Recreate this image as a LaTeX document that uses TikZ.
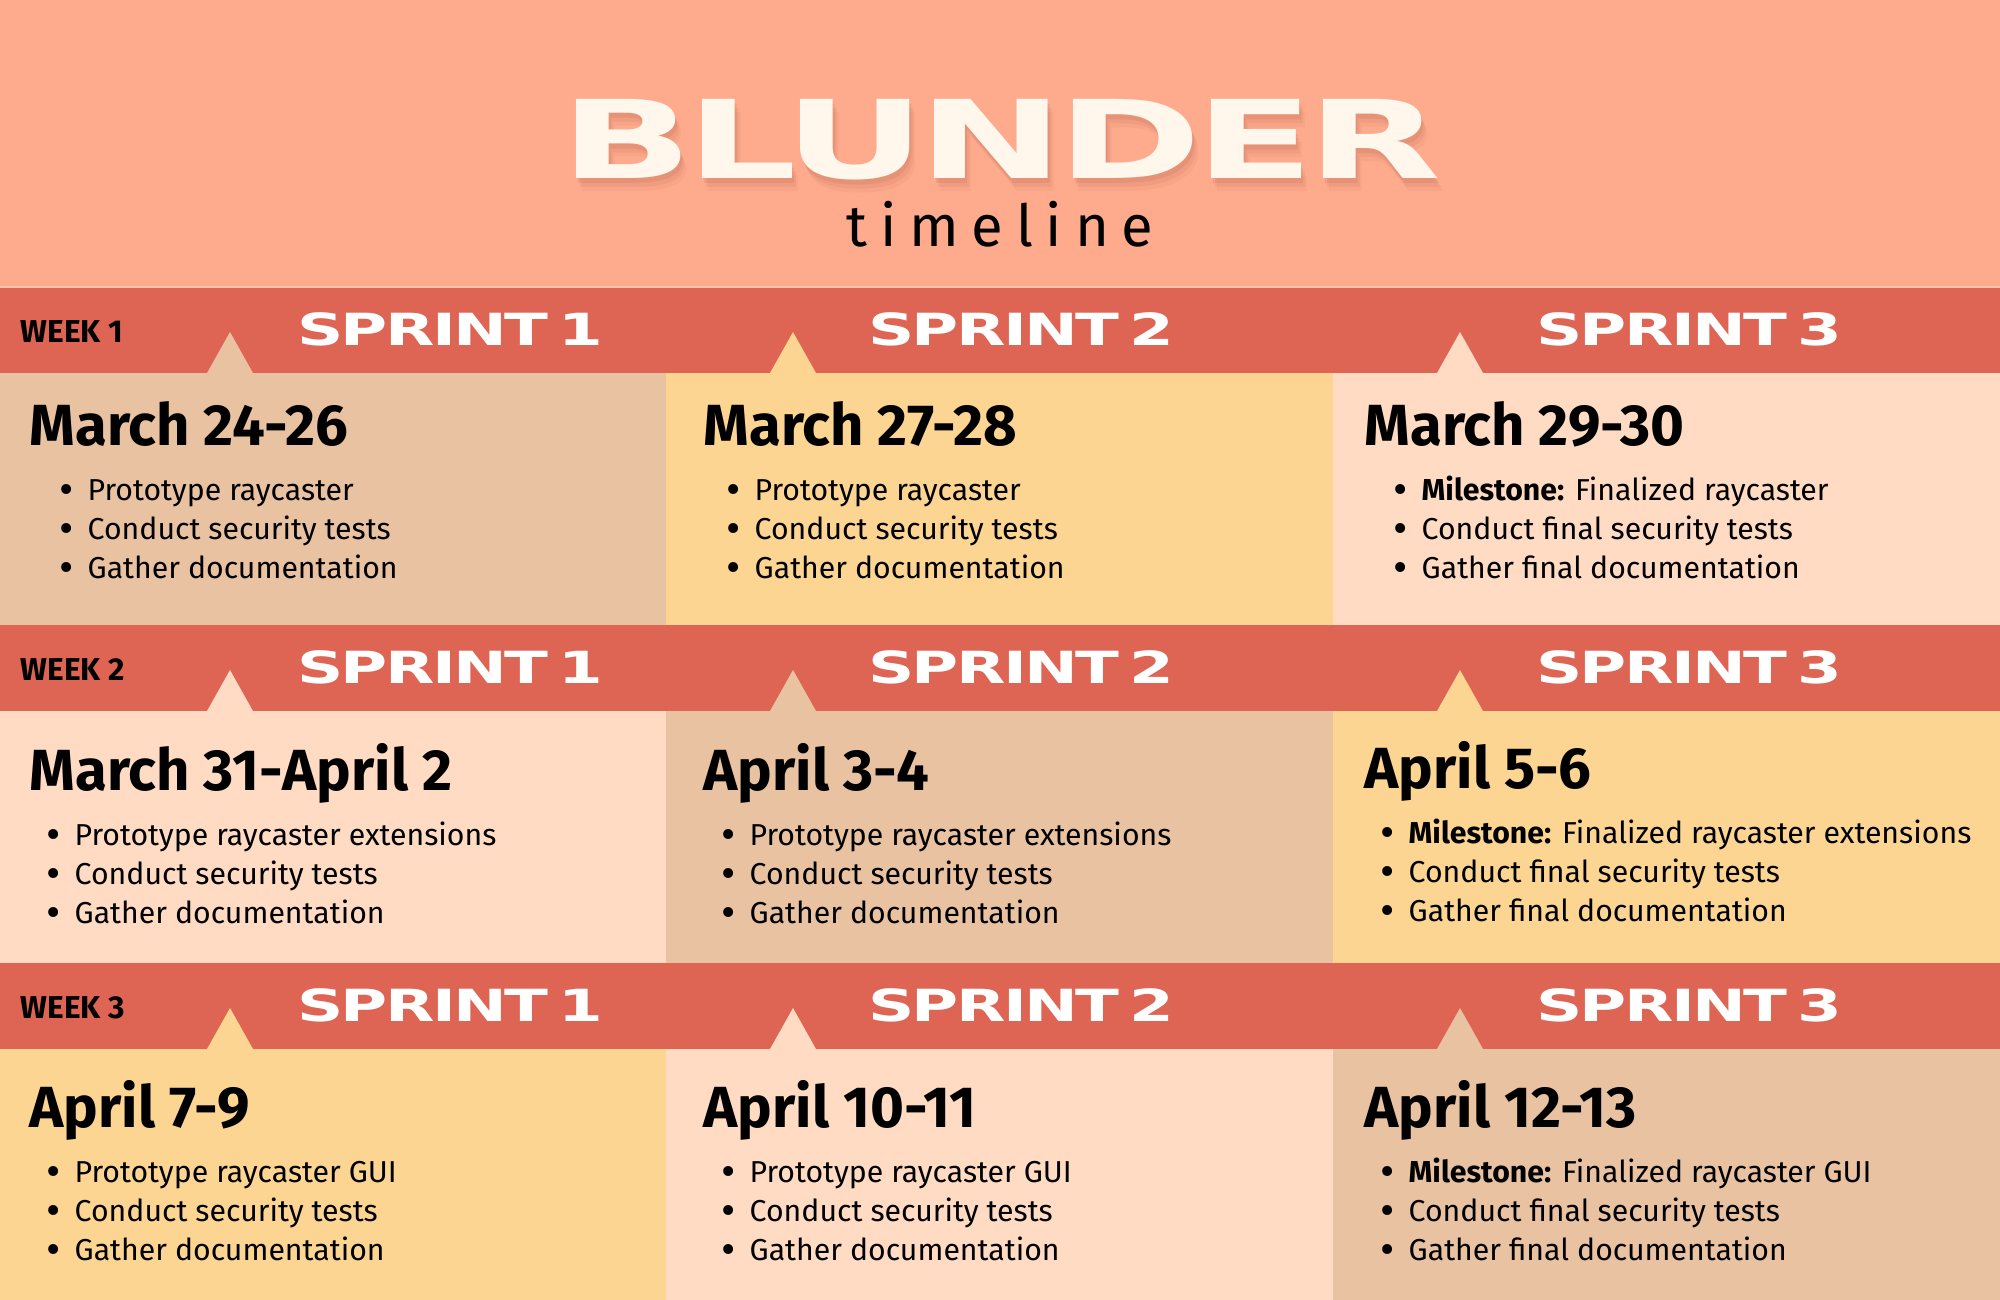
\documentclass[tikz,border=0pt]{standalone}
\usepackage{fontspec}
\setmainfont{Fira Sans}
\newfontfamily\sprintfont[FakeStretch=1.45,LetterSpace=-6,WordSpace=0.5]{DejaVu Sans}
\newfontfamily\titlefont[FakeStretch=1.6,LetterSpace=-6]{DejaVu Sans}
\newfontfamily\subfont[LetterSpace=22]{Fira Sans}
\usetikzlibrary{positioning}
\definecolor{headbg}{HTML}{FEAA8D}
\definecolor{bandred}{HTML}{DE6453}
\definecolor{tan}{HTML}{E8C2A1}
\definecolor{yellow}{HTML}{FCD593}
\definecolor{light}{HTML}{FEDBC2}
\definecolor{cream}{HTML}{FFF6EC}
\definecolor{shadowcol}{HTML}{B8634C}
\newcommand{\bul}{\llap{\raisebox{-1.3pt}{\fontsize{12.5pt}{12pt}\selectfont\textbullet}\hspace{4pt}}}
\tikzset{
  titletext/.style={inner sep=0pt, anchor=base, text=cream, font=\titlefont\bfseries\fontsize{30.9pt}{32pt}\selectfont},
  subtitle/.style={inner sep=0pt, anchor=base, font=\subfont\fontsize{16.5pt}{18pt}\selectfont},
  weeklabel/.style={inner sep=0pt, anchor=west, font=\bfseries\fontsize{9pt}{10pt}\selectfont},
  sprintlabel/.style={inner sep=0pt, text=white, font=\sprintfont\bfseries\fontsize{12.6pt}{13pt}\selectfont},
  datehead/.style={inner sep=0pt, anchor=base west, font=\bfseries\fontsize{16.5pt}{18pt}\selectfont},
  task/.style={inner sep=0pt, anchor=base west, font=\fontsize{8.6pt}{10pt}\selectfont}
}
% name, heading x, heading baseline, list x, heading, items
\newcommand{\sprintcell}[6]{%
  \node[datehead] (#1) at (#2,#3) {#5};
  \foreach \t [count=\i] in {#6}
    \node[task] (#1-\i) at (#4,#3+16+39*\i) {\bul\t};
}

\begin{document}
\begin{tikzpicture}[x=0.01cm,y=-0.01cm]
  \useasboundingbox (0,0) rectangle (2000,1300);
  % header
  \fill[headbg] (0,0) rectangle (2000,287);
  \foreach \dx/\dy/\op in {2/5/0.16, 4/9/0.12, 6/13/0.08}
    \node[titletext, text=shadowcol, opacity=\op] at (1001+\dx,179+\dy) {BLUNDER};
  \node[titletext] (title) at (1001,179) {BLUNDER};
  \node[subtitle] (sub) at (1000,246) {timeline};

  % bands and cells
  \foreach \y/\w/\ca/\cb/\cc in {287/1/tan/yellow/light, 625/2/light/tan/yellow, 963/3/yellow/light/tan} {
    \fill[bandred] (0,\y) rectangle (2000,\y+86);
    \fill[\ca] (0,\y+86) rectangle (666,\y+338);
    \fill[\cb] (666,\y+86) rectangle (1333,\y+338);
    \fill[\cc] (1333,\y+86) rectangle (2000,\y+338);
    \fill[\ca] (207,\y+86) -- (230,\y+45) -- (253,\y+86) -- cycle;
    \fill[\cb] (770,\y+86) -- (793,\y+45) -- (816,\y+86) -- cycle;
    \fill[\cc] (1437,\y+86) -- (1460,\y+45) -- (1483,\y+86) -- cycle;
    \node[weeklabel] (week\w) at (20,\y+45) {WEEK \w};
    \node[sprintlabel] (s\w-1) at (450,\y+42) {SPRINT 1};
    \node[sprintlabel] (s\w-2) at (1021,\y+42) {SPRINT 2};
    \node[sprintlabel] (s\w-3) at (1689,\y+42) {SPRINT 3};
  }
  \draw[headbg!70!white, line width=0.5pt] (0,287) -- (2000,287);

  % week 1
  \sprintcell{c11}{29}{445}{87}{March 24-26}{Prototype raycaster, Conduct security tests, Gather documentation}
  \sprintcell{c12}{703}{445}{754}{March 27-28}{Prototype raycaster, Conduct security tests, Gather documentation}
  \sprintcell{c13}{1364}{445}{1421}{March 29-30}{\textbf{Milestone:} Finalized raycaster, Conduct final security tests, Gather final documentation}
  % week 2
  \sprintcell{c21}{29}{790}{74}{March 31-April 2}{Prototype raycaster extensions, Conduct security tests, Gather documentation}
  \sprintcell{c22}{703}{790}{749}{April 3-4}{Prototype raycaster extensions, Conduct security tests, Gather documentation}
  \sprintcell{c23}{1364}{788}{1408}{April 5-6}{\textbf{Milestone:} Finalized raycaster extensions, Conduct final security tests, Gather final documentation}
  % week 3
  \sprintcell{c31}{29}{1127}{74}{April 7-9}{Prototype raycaster GUI, Conduct security tests, Gather documentation}
  \sprintcell{c32}{703}{1127}{749}{April 10-11}{Prototype raycaster GUI, Conduct security tests, Gather documentation}
  \sprintcell{c33}{1364}{1127}{1408}{April 12-13}{\textbf{Milestone:} Finalized raycaster GUI, Conduct final security tests, Gather final documentation}
\end{tikzpicture}
\end{document}
